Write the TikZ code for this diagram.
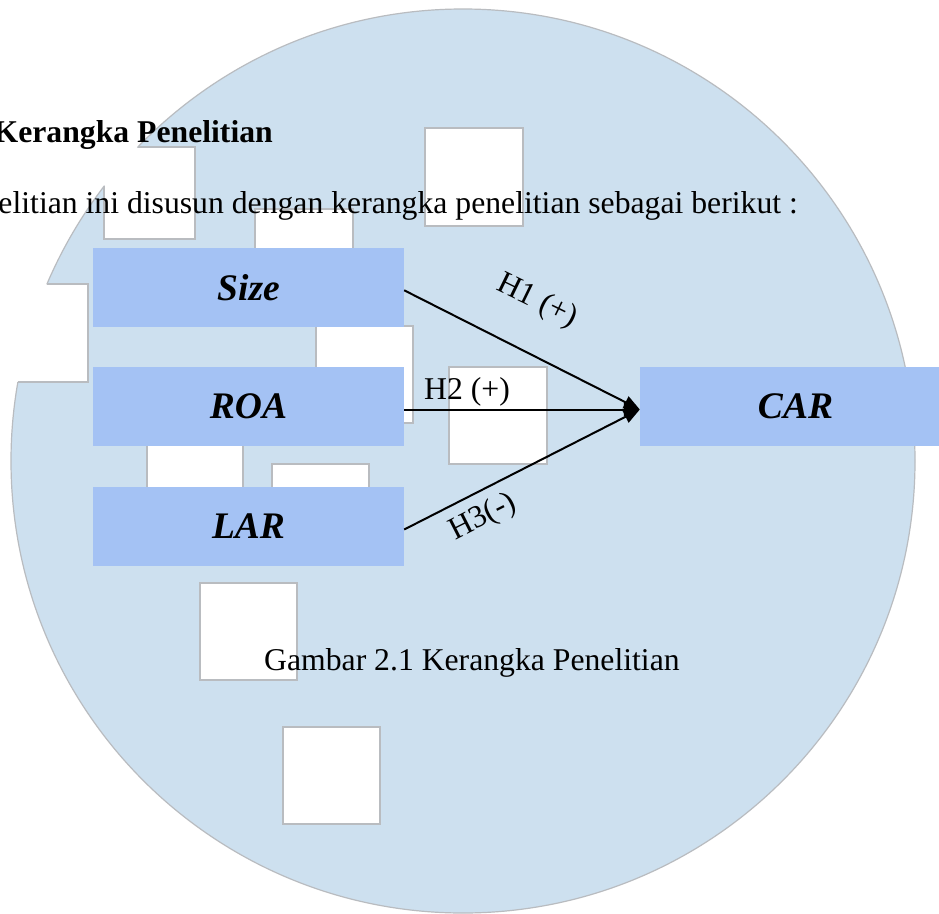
\documentclass[tikz,border=0pt]{standalone}
\usepackage{fontspec}
\setmainfont{Liberation Serif}
\usetikzlibrary{arrows.meta}
\definecolor{circfill}{RGB}{205,224,239}
\definecolor{boxblue}{RGB}{164,194,244}
\definecolor{edgegray}{RGB}{185,188,192}
\tikzset{
  varbox/.style={fill=boxblue, draw=none, minimum width=311pt, minimum height=79pt, inner sep=0pt,
    font=\fontsize{37.5}{40}\selectfont\bfseries\itshape},
  holeedge/.style={draw=edgegray, line width=1.2pt},
  conn/.style={line width=2pt, -{Triangle[length=16pt,width=13pt]}},
  plaintext/.style={inner sep=0pt, font=\fontsize{31.7}{36}\selectfont},
  hlabel/.style={inner sep=0pt, font=\fontsize{31.7}{36}\selectfont}
}
\begin{document}
\begin{tikzpicture}[x=1pt,y=-1pt]
\clip (0,0) rectangle (939,913);
\fill[white] (0,0) rectangle (939,913);
% big circle
\fill[circfill] (463,461) circle[radius=452];
\draw[holeedge] (463,461) circle[radius=452];
% holes
\foreach \a/\b/\c/\d in {-10/284/88/382, 104/147/195/239, 425/128/523/226, 255/209/353/306,
  316/326/413/423, 449/367/547/464, 147/420/243/517, 272/464/369/561, 200/583/297/680, 283/727/380/824}
  \fill[white] (\a,\b) rectangle (\c,\d);
\begin{scope}
\clip (463,461) circle[radius=452];
\foreach \a/\b/\c/\d in {-10/284/88/382, 104/147/195/239, 425/128/523/226, 255/209/353/306,
  316/326/413/423, 449/367/547/464, 147/420/243/517, 272/464/369/561, 200/583/297/680, 283/727/380/824}
  \draw[holeedge] (\a,\b) rectangle (\c,\d);
\end{scope}
% boxes
\node[varbox] (Size) at (248.5,287.3) {Size};
\node[varbox] (ROA) at (248.5,406.5) {ROA};
\node[varbox] (LAR) at (248.5,526.5) {LAR};
\node[varbox] (CAR) at (795.5,406.5) {CAR};
% connectors
\draw[conn] ([yshift=-3pt]Size.east) -- ([yshift=-3pt]CAR.west);
\draw[conn] ([yshift=-3pt]ROA.east) -- ([yshift=-3pt]CAR.west);
\draw[conn] ([yshift=-3pt]LAR.east) -- ([yshift=-3pt]CAR.west);
% labels
\node[hlabel, rotate=-26] (h1) at (537,301.5) {H1 (+)};
\node[hlabel, anchor=base west] (h2) at (424,399.3) {H2 (+)};
\node[hlabel, rotate=27] (h3) at (483,517.5) {H3(-)};
% texts
\node[plaintext, anchor=base east, font=\fontsize{31.7}{36}\selectfont\bfseries] (head) at (273,142.7) {Kerangka Penelitian};
\node[plaintext, anchor=base east] (intro) at (798,213) {elitian ini disusun dengan kerangka penelitian sebagai berikut :};
\node[plaintext, anchor=base west] (cap) at (264,670.7) {Gambar 2.1 Kerangka Penelitian};
\end{tikzpicture}
\end{document}
